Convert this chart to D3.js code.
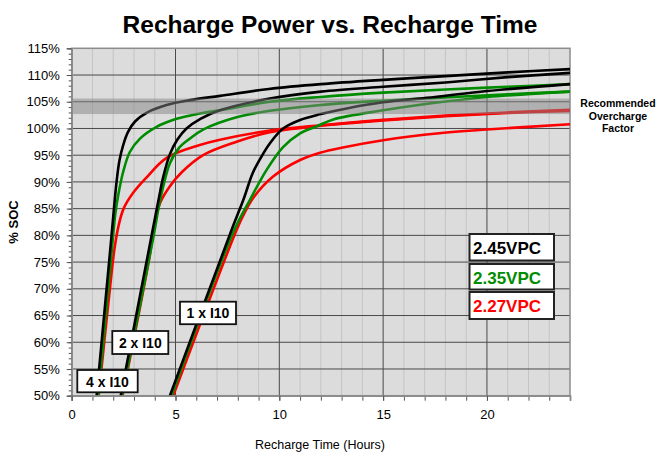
<!DOCTYPE html>
<html>
<head>
<meta charset="utf-8">
<script src="https://cdn.jsdelivr.net/npm/d3@7"></script>
<style>
  body { margin: 0; background: #fff; }
  text { font-family: Arial, "Liberation Sans", sans-serif; }
</style>
</head>
<body>
<svg id="chart" width="658" height="452"></svg>
<script>
const WIDTH = 658, HEIGHT = 452;
const PLOT = { left: 71.7, right: 570, top: 48.3, bottom: 395.7 };

// x ticks (hours) and y ticks (% SOC)
const xTicks = [0, 5, 10, 15, 20];
const yTicks = [50, 55, 60, 65, 70, 75, 80, 85, 90, 95, 100, 105, 110, 115];

// recommended overcharge band, % SOC
const bandRange = [102.7, 105.6];

// curves: [hours, % SOC]
const black4x = [[1.2,50],[1.92,80],[2.16,90],[2.3,94],[2.48,96.9],[2.72,99.4],[3.05,101.3],[3.69,103.1],[4.57,104.4],[5.69,105.3],[7.14,106.1],[9.5,107.4],[12,108.3],[15,109.1],[18,109.8],[21,110.5],[24,111.1]];
const black2x = [[2.36,50],[3.9,81],[4.2,87],[4.4,90.8],[4.73,95.2],[5.1,98],[5.53,100],[6.2,101.8],[7.14,103.4],[9.54,105.6],[12,106.9],[15,107.8],[18,108.6],[21,109.6],[24,110.4]];
const black1x = [[4.73,50],[7.7,81],[8.3,87],[8.7,91.5],[9.06,94.2],[9.54,97.2],[10.18,100],[11,101.6],[12,102.7],[13.3,103.8],[15,104.9],[17.5,105.9],[20,107],[24,108.3]];

const green4x = [[1.28,50],[1.95,78],[2.1,84],[2.24,87.5],[2.48,91.9],[2.8,95.6],[3.29,98.1],[4.09,100.3],[5.05,101.8],[6.17,102.8],[7.14,103.4],[9.54,105],[12,105.9],[15,106.7],[18,107.3],[21,107.8],[24,108.3]];
const green2x = [[2.42,50],[3.95,80],[4.2,85.5],[4.4,89],[4.73,93.5],[5.2,96.5],[5.69,98.1],[6.33,99.8],[7.94,102.1],[9.54,103.3],[12,104.4],[15,105.2],[18,105.8],[21,106.4],[24,106.9]];
const green1x = [[4.81,50],[7.83,81],[8.58,86.6],[9.38,92.2],[10.18,96.5],[11,99.1],[11.8,100.4],[12.6,101.7],[15,103.4],[17.7,104.9],[20,105.9],[24,106.9]];

const red4x = [[1.3,50],[1.95,74],[2.08,78],[2.24,81.5],[2.5,85],[2.97,88],[3.6,90.8],[4.57,94.5],[6.17,96.9],[7.14,97.9],[9.54,99.6],[12,100.6],[15,101.6],[18,102.4],[21,103],[24,103.5]];
const red2x = [[2.45,50],[3.75,76],[3.95,81],[4.25,86],[4.73,89.2],[5.3,91.8],[6.33,95],[7.94,97.5],[9.54,99.3],[12,100.5],[15,101.5],[18,102.3],[21,102.9],[24,103.3]];
const red1x = [[4.89,50],[7.94,81],[8.3,84],[8.74,87],[9.7,91],[11,94.1],[12,95.5],[13,96.4],[15,97.8],[17.7,99.1],[20,99.8],[24,100.8]];

const legendLabels = ["2.45VPC", "2.35VPC", "2.27VPC"];
const legendColors = ["#000000", "#008c00", "#ff0000"];

const rateLabels = ["1 x I10", "2 x I10", "4 x I10"];

const svg = d3.select("#chart");

const x = d3.scaleLinear().domain([0, 24]).range([PLOT.left, PLOT.right]);
const y = d3.scaleLinear().domain([50, 115]).range([PLOT.bottom, PLOT.top]);

// background
svg.append("rect")
    .attr("x", PLOT.left).attr("y", PLOT.top)
    .attr("width", PLOT.right - PLOT.left).attr("height", PLOT.bottom - PLOT.top)
    .attr("fill", "#dcdcdc");

// minor vertical grid, every hour
svg.append("g").selectAll("line")
    .data(d3.range(1, 24).filter(h => h % 5 != 0))
    .enter().append("line")
    .attr("x1", d => x(d)).attr("x2", d => x(d))
    .attr("y1", PLOT.top).attr("y2", PLOT.bottom)
    .attr("stroke", "#c4c4c4").attr("stroke-width", 1);

// major grid
svg.append("g").selectAll("line")
    .data(yTicks.slice(1, -1))
    .enter().append("line")
    .attr("x1", PLOT.left).attr("x2", PLOT.right)
    .attr("y1", d => y(d)).attr("y2", d => y(d))
    .attr("stroke", "#4a4a4a").attr("stroke-width", 1);
svg.append("g").selectAll("line")
    .data(xTicks.slice(1))
    .enter().append("line")
    .attr("x1", d => x(d)).attr("x2", d => x(d))
    .attr("y1", PLOT.top).attr("y2", PLOT.bottom)
    .attr("stroke", "#4a4a4a").attr("stroke-width", 1);

// plot border
svg.append("rect")
    .attr("x", PLOT.left).attr("y", PLOT.top)
    .attr("width", PLOT.right - PLOT.left).attr("height", PLOT.bottom - PLOT.top)
    .attr("fill", "none").attr("stroke", "#8c8c8c").attr("stroke-width", 1.5);

// curves
svg.append("clipPath").attr("id", "clip")
    .append("rect")
    .attr("x", PLOT.left).attr("y", PLOT.top)
    .attr("width", PLOT.right - PLOT.left).attr("height", PLOT.bottom - PLOT.top);

const line = d3.line()
    .x(d => x(d[0]))
    .y(d => y(d[1]))
    .curve(d3.curveCatmullRom.alpha(0.5));

const series = [
    { data: red1x, color: legendColors[2] },
    { data: red2x, color: legendColors[2] },
    { data: red4x, color: legendColors[2] },
    { data: green1x, color: legendColors[1] },
    { data: green2x, color: legendColors[1] },
    { data: green4x, color: legendColors[1] },
    { data: black1x, color: legendColors[0] },
    { data: black2x, color: legendColors[0] },
    { data: black4x, color: legendColors[0] }
];

svg.append("g").attr("clip-path", "url(#clip)")
    .selectAll("path")
    .data(series)
    .enter().append("path")
    .attr("d", d => line(d.data))
    .attr("fill", "none")
    .attr("stroke", d => d.color)
    .attr("stroke-width", 2.6)
    .attr("stroke-linejoin", "round");

// recommended overcharge band (on top, translucent)
svg.append("rect")
    .attr("x", x(0)).attr("width", x(24) - x(0))
    .attr("y", y(bandRange[1])).attr("height", y(bandRange[0]) - y(bandRange[1]))
    .attr("fill", "#848484").attr("fill-opacity", 0.5);

// axes
const yAxis = d3.axisLeft(y).tickValues(yTicks).tickSize(5).tickFormat(d => d + "%");
const yMinor = d3.axisLeft(y).tickValues(d3.range(50, 116)).tickSize(3).tickFormat("");
const xAxis = d3.axisBottom(x).tickValues(xTicks).tickSize(5).tickPadding(9);
const xMinor = d3.axisBottom(x).tickValues(d3.range(0, 25)).tickSize(5).tickFormat("");

function styleAxis(g){
    g.select(".domain").attr("stroke", "#8c8c8c").attr("stroke-width", 1.5);
    g.selectAll(".tick line").attr("stroke", "#555");
    g.selectAll("text").attr("font-size", 13).attr("fill", "#000")
        .style("font-family", "Arial, 'Liberation Sans', sans-serif");
}

svg.append("g").attr("transform", `translate(${PLOT.left},0)`).call(yMinor).call(styleAxis);
svg.append("g").attr("transform", `translate(${PLOT.left},0)`).call(yAxis).call(styleAxis)
    .selectAll("text").attr("dx", "-4");
svg.append("g").attr("transform", `translate(0,${PLOT.bottom})`).call(xMinor).call(styleAxis);
svg.append("g").attr("transform", `translate(0,${PLOT.bottom})`).call(xAxis).call(styleAxis);

// titles
svg.append("text")
    .attr("x", 330).attr("y", 33)
    .attr("text-anchor", "middle")
    .attr("font-size", 24.5).attr("font-weight", "bold")
    .text("Recharge Power vs. Recharge Time");

svg.append("text")
    .attr("x", 320).attr("y", 449)
    .attr("text-anchor", "middle")
    .attr("font-size", 12.5)
    .text("Recharge Time (Hours)");

svg.append("text")
    .attr("transform", "translate(18,222) rotate(-90)")
    .attr("text-anchor", "middle")
    .attr("font-size", 13).attr("font-weight", "bold")
    .text("% SOC");

// band annotation
svg.append("text")
    .attr("x", 618).attr("y", 107)
    .attr("text-anchor", "middle")
    .attr("font-size", 10.5).attr("font-weight", "bold")
    .selectAll("tspan")
    .data(["Recommended", "Overcharge", "Factor"])
    .enter().append("tspan")
    .attr("x", 618).attr("dy", (d, i) => i == 0 ? 0 : 12.5)
    .text(d => d);

// legend boxes
const legend = svg.append("g").selectAll("g")
    .data(legendLabels)
    .enter().append("g")
    .attr("transform", (d, i) => `translate(469.5,${[234, 264, 292][i]})`);
legend.append("rect")
    .attr("width", 84.5).attr("height", (d, i) => [26.5, 25.5, 27][i])
    .attr("fill", "#fff").attr("stroke", "#222").attr("stroke-width", 2);
legend.append("text")
    .attr("x", 3.5).attr("y", 20)
    .attr("font-size", 17).attr("font-weight", "bold")
    .attr("fill", (d, i) => legendColors[i])
    .text(d => d);

// rate boxes
const rateBoxes = [[180, 301.7, 56, 22.5], [112.3, 331, 56, 23], [77.3, 370, 60.4, 22.3]];
const rates = svg.append("g").selectAll("g")
    .data(rateLabels)
    .enter().append("g")
    .attr("transform", (d, i) => `translate(${rateBoxes[i][0]},${rateBoxes[i][1]})`);
rates.append("rect")
    .attr("width", (d, i) => rateBoxes[i][2]).attr("height", (d, i) => rateBoxes[i][3])
    .attr("fill", "#fff").attr("stroke", "#111").attr("stroke-width", 1.8);
rates.append("text")
    .attr("x", (d, i) => rateBoxes[i][2] / 2).attr("y", 16.5)
    .attr("text-anchor", "middle")
    .attr("font-size", 14).attr("font-weight", "bold")
    .text(d => d);
</script>
</body>
</html>
